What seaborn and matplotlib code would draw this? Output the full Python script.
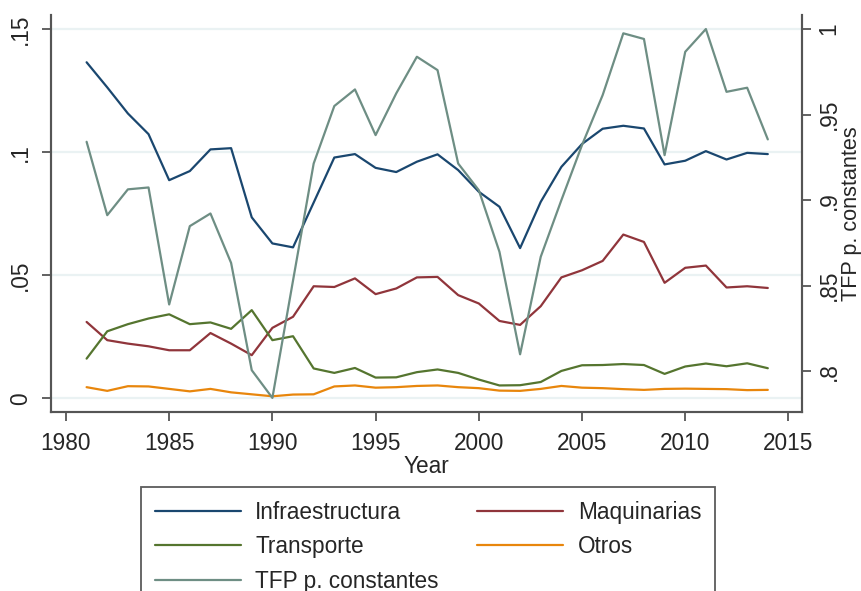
import numpy as np
import pandas as pd
import seaborn as sns
import matplotlib
matplotlib.use("Agg")
import matplotlib.pyplot as plt

# data
years = list(range(1981, 2015))
infraestructura = [0.1365, 0.1263, 0.1157, 0.1073, 0.0886, 0.0923, 0.1011, 0.1016, 0.0735, 0.0629,
                   0.0613, 0.0795, 0.0978, 0.0992, 0.0936, 0.0919, 0.0961, 0.0991, 0.0927, 0.0839,
                   0.0778, 0.0610, 0.0798, 0.0940, 0.1033, 0.1095, 0.1107, 0.1096, 0.0950, 0.0965,
                   0.1004, 0.0970, 0.0997, 0.0992]
maquinarias = [0.0310, 0.0236, 0.0222, 0.0211, 0.0195, 0.0195, 0.0265, 0.0222, 0.0175, 0.0286,
               0.0331, 0.0455, 0.0452, 0.0487, 0.0423, 0.0446, 0.0491, 0.0493, 0.0419, 0.0385,
               0.0314, 0.0298, 0.0374, 0.0491, 0.0520, 0.0558, 0.0665, 0.0635, 0.0469, 0.0530,
               0.0539, 0.0450, 0.0455, 0.0448]
transporte = [0.0161, 0.0272, 0.0301, 0.0324, 0.0341, 0.0301, 0.0308, 0.0282, 0.0358, 0.0236,
              0.0252, 0.0121, 0.0103, 0.0123, 0.0084, 0.0085, 0.0106, 0.0117, 0.0103, 0.0076,
              0.0052, 0.0053, 0.0066, 0.0111, 0.0134, 0.0135, 0.0139, 0.0135, 0.0099, 0.0129,
              0.0141, 0.0130, 0.0142, 0.0122]
otros = [0.0045, 0.0030, 0.0049, 0.0048, 0.0038, 0.0028, 0.0038, 0.0024, 0.0016, 0.0008,
         0.0015, 0.0016, 0.0048, 0.0052, 0.0043, 0.0045, 0.0050, 0.0052, 0.0045, 0.0041,
         0.0031, 0.0030, 0.0038, 0.0050, 0.0043, 0.0041, 0.0037, 0.0034, 0.0038, 0.0039,
         0.0038, 0.0037, 0.0033, 0.0034]
tfp = [0.9341, 0.8912, 0.9063, 0.9074, 0.8390, 0.8848, 0.8922, 0.8633, 0.8006, 0.7844,
       0.8530, 0.9214, 0.9550, 0.9647, 0.9380, 0.9624, 0.9838, 0.9760, 0.9214, 0.9058,
       0.8698, 0.8099, 0.8669, 0.9000, 0.9322, 0.9614, 0.9975, 0.9942, 0.9263, 0.9867,
       1.0000, 0.9633, 0.9657, 0.9355]

left_ticks = [0, 0.05, 0.1, 0.15]
left_labels = ["0", ".05", ".1", ".15"]
right_ticks = [0.8, 0.85, 0.9, 0.95, 1.0]
right_labels = [".8", ".85", ".9", ".95", "1"]
x_ticks = [1980, 1985, 1990, 1995, 2000, 2005, 2010, 2015]

df = pd.DataFrame({"Year": years, "Infraestructura": infraestructura, "Maquinarias": maquinarias,
                   "Transporte": transporte, "Otros": otros, "TFP": tfp})

sns.set_style("white")
plt.rcParams['font.family'] = ['Liberation Sans', 'DejaVu Sans']
fs = 16.3
spine_c = "#555555"

fig = plt.figure(figsize=(8.62, 5.91), dpi=100)
ax = fig.add_axes([0.0588, 0.3024, 0.930 - 0.0588, 0.9746 - 0.3024])
ax2 = ax.twinx()

colors = {"Infraestructura": "#1A476F", "Maquinarias": "#90353B", "Transporte": "#55752F",
          "Otros": "#E8860C", "TFP": "#6E8E84"}
lw = 1.6
for col in ["Infraestructura", "Maquinarias", "Transporte", "Otros"]:
    sns.lineplot(data=df, x="Year", y=col, ax=ax, color=colors[col], linewidth=lw, label=col, legend=False)
sns.lineplot(data=df, x="Year", y="TFP", ax=ax2, color=colors["TFP"], linewidth=lw,
             label="TFP p. constantes", legend=False)

ax.set_xlim(1979.26, 2015.64)
ax.set_ylim(-0.0057, 0.1557)
ax2.set_ylim(0.776, 1.0082)

for a in (ax, ax2):
    a.spines["top"].set_visible(False)
    for s in ["left", "right", "bottom"]:
        a.spines[s].set_color(spine_c)
        a.spines[s].set_linewidth(1.5)

ax.set_yticks(left_ticks)
ax.set_yticklabels(left_labels, rotation=90, va="center", fontsize=fs)
ax2.set_yticks(right_ticks)
ax2.set_yticklabels(right_labels, rotation=90, va="center", fontsize=fs)
ax.set_xticks(x_ticks)
ax.set_xticklabels([str(t) for t in x_ticks], fontsize=fs)
ax.tick_params(axis="both", length=6.5, width=1.3, color=spine_c, pad=7, left=True, bottom=True)
ax2.tick_params(axis="y", length=6.5, width=1.3, color=spine_c, pad=5, right=True)
ax.tick_params(axis="x", pad=8)

ax.grid(axis="y", color="#EAF2F3", linewidth=1.6)
ax.set_axisbelow(True)

ax.set_xlabel("Year", fontsize=fs, labelpad=0)
ax.set_ylabel("")
ax2.set_ylabel("TFP p. constantes", fontsize=15.6, labelpad=0)

h, l = ax.get_legend_handles_labels()
h2, l2 = ax2.get_legend_handles_labels()
handles = [h[0], h[2], h2[0], h[1], h[3]]
labels = [l[0], l[2], l2[0], l[1], l[3]]
leg = fig.legend(handles, labels, loc="upper left", bbox_to_anchor=(141 / 862, 1 - 487.3 / 591),
                 ncol=2, fontsize=fs, frameon=True, fancybox=False, handlelength=3.8,
                 handletextpad=0.65, columnspacing=1.7, labelspacing=0.5, borderpad=0.6,
                 borderaxespad=0)
leg.get_frame().set_edgecolor("#333333")
leg.get_frame().set_linewidth(1.3)

fig.savefig("out.png", dpi=100)
